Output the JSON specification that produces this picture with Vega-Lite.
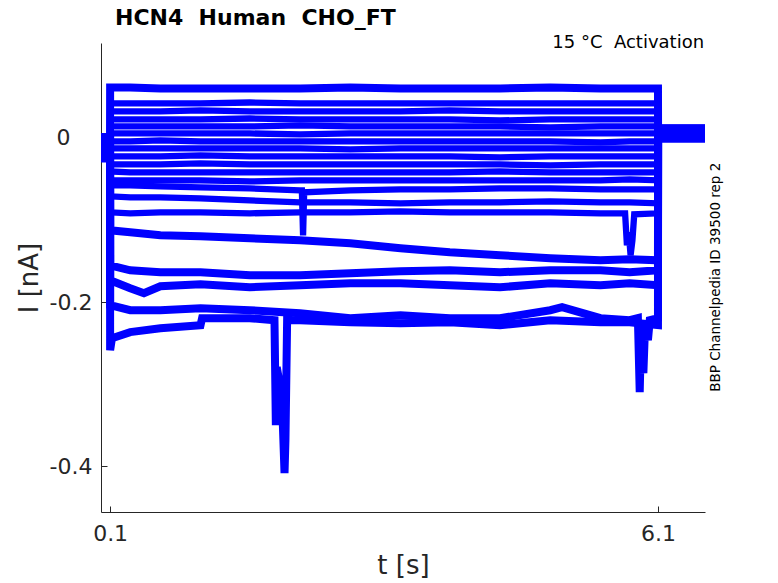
{
  "$schema": "https://vega.github.io/schema/vega-lite/v6.json",
  "autosize": "none",
  "width": 604,
  "height": 469,
  "padding": {"left": 101, "top": 43, "right": 73, "bottom": 71},
  "background": "white",
  "title": {
    "text": "HCN4\u00a0\u00a0Human\u00a0\u00a0CHO_FT",
    "anchor": "start",
    "frame": "group",
    "dx": 14,
    "offset": 4,
    "font": "DejaVu Sans",
    "fontSize": 22,
    "fontWeight": "bold",
    "color": "black"
  },
  "data": {
    "values": [
      {"sweep":1,"t":0,"i":0.0006},{"sweep":1,"t":0.015,"i":0.0006},{"sweep":1,"t":0.023,"i":-0.0298},{"sweep":1,"t":0.03,"i":-0.0018},{"sweep":1,"t":0.099,"i":0.0006},
      {"sweep":1,"t":0.1,"i":0.0615},{"sweep":1,"t":0.32,"i":0.0615},{"sweep":1,"t":0.65,"i":0.0603},{"sweep":1,"t":1.09,"i":0.0603},{"sweep":1,"t":1.63,"i":0.0603},{"sweep":1,"t":2.18,"i":0.0603},{"sweep":1,"t":2.73,"i":0.0615},{"sweep":1,"t":3.28,"i":0.0603},{"sweep":1,"t":3.82,"i":0.0603},{"sweep":1,"t":4.37,"i":0.0603},{"sweep":1,"t":4.92,"i":0.0615},{"sweep":1,"t":5.47,"i":0.0603},{"sweep":1,"t":5.79,"i":0.0603},{"sweep":1,"t":6.1,"i":0.0603},{"sweep":1,"t":6.101,"i":0.0116},{"sweep":1,"t":6.615,"i":0.0116},

      {"sweep":2,"t":0,"i":0.0006},{"sweep":2,"t":0.099,"i":0.0006},
      {"sweep":2,"t":0.1,"i":0.0420},{"sweep":2,"t":0.32,"i":0.0420},{"sweep":2,"t":0.65,"i":0.0420},{"sweep":2,"t":1.09,"i":0.0420},{"sweep":2,"t":1.63,"i":0.0432},{"sweep":2,"t":2.18,"i":0.0420},{"sweep":2,"t":2.73,"i":0.0420},{"sweep":2,"t":3.28,"i":0.0420},{"sweep":2,"t":3.82,"i":0.0420},{"sweep":2,"t":4.37,"i":0.0420},{"sweep":2,"t":4.92,"i":0.0420},{"sweep":2,"t":5.47,"i":0.0420},{"sweep":2,"t":5.79,"i":0.0420},{"sweep":2,"t":6.1,"i":0.0420},{"sweep":2,"t":6.101,"i":0.0006},{"sweep":2,"t":6.615,"i":0.0006},

      {"sweep":3,"t":0,"i":0.0006},{"sweep":3,"t":0.099,"i":0.0006},
      {"sweep":3,"t":0.1,"i":0.0323},{"sweep":3,"t":0.32,"i":0.0323},{"sweep":3,"t":0.65,"i":0.0323},{"sweep":3,"t":1.09,"i":0.0335},{"sweep":3,"t":1.63,"i":0.0323},{"sweep":3,"t":2.18,"i":0.0323},{"sweep":3,"t":2.73,"i":0.0323},{"sweep":3,"t":3.28,"i":0.0323},{"sweep":3,"t":3.82,"i":0.0335},{"sweep":3,"t":4.37,"i":0.0323},{"sweep":3,"t":4.92,"i":0.0323},{"sweep":3,"t":5.47,"i":0.0323},{"sweep":3,"t":5.79,"i":0.0323},{"sweep":3,"t":6.1,"i":0.0323},{"sweep":3,"t":6.101,"i":0.0091},{"sweep":3,"t":6.615,"i":0.0091},

      {"sweep":4,"t":0,"i":0.0006},{"sweep":4,"t":0.099,"i":0.0006},
      {"sweep":4,"t":0.1,"i":0.0225},{"sweep":4,"t":0.32,"i":0.0225},{"sweep":4,"t":0.65,"i":0.0225},{"sweep":4,"t":1.09,"i":0.0225},{"sweep":4,"t":1.63,"i":0.0237},{"sweep":4,"t":2.18,"i":0.0225},{"sweep":4,"t":2.73,"i":0.0225},{"sweep":4,"t":3.28,"i":0.0225},{"sweep":4,"t":3.82,"i":0.0225},{"sweep":4,"t":4.37,"i":0.0213},{"sweep":4,"t":4.92,"i":0.0225},{"sweep":4,"t":5.47,"i":0.0225},{"sweep":4,"t":5.79,"i":0.0225},{"sweep":4,"t":6.1,"i":0.0225},{"sweep":4,"t":6.101,"i":0.0043},{"sweep":4,"t":6.615,"i":0.0043},

      {"sweep":5,"t":0,"i":0.0006},{"sweep":5,"t":0.099,"i":0.0006},
      {"sweep":5,"t":0.1,"i":0.0140},{"sweep":5,"t":0.32,"i":0.0140},{"sweep":5,"t":0.65,"i":0.0140},{"sweep":5,"t":1.09,"i":0.0140},{"sweep":5,"t":1.63,"i":0.0140},{"sweep":5,"t":2.18,"i":0.0152},{"sweep":5,"t":2.73,"i":0.0140},{"sweep":5,"t":3.28,"i":0.0140},{"sweep":5,"t":3.82,"i":0.0140},{"sweep":5,"t":4.37,"i":0.0140},{"sweep":5,"t":4.92,"i":0.0128},{"sweep":5,"t":5.47,"i":0.0140},{"sweep":5,"t":5.79,"i":0.0140},{"sweep":5,"t":6.1,"i":0.0140},{"sweep":5,"t":6.101,"i":0.0128},{"sweep":5,"t":6.615,"i":0.0128},

      {"sweep":6,"t":0,"i":0.0006},{"sweep":6,"t":0.099,"i":0.0006},
      {"sweep":6,"t":0.1,"i":0.0055},{"sweep":6,"t":0.32,"i":0.0055},{"sweep":6,"t":0.65,"i":0.0055},{"sweep":6,"t":1.09,"i":0.0055},{"sweep":6,"t":1.63,"i":0.0055},{"sweep":6,"t":2.18,"i":0.0043},{"sweep":6,"t":2.73,"i":0.0055},{"sweep":6,"t":3.28,"i":0.0055},{"sweep":6,"t":3.82,"i":0.0055},{"sweep":6,"t":4.37,"i":0.0055},{"sweep":6,"t":4.92,"i":0.0055},{"sweep":6,"t":5.47,"i":0.0055},{"sweep":6,"t":5.79,"i":0.0055},{"sweep":6,"t":6.1,"i":0.0055},{"sweep":6,"t":6.101,"i":-0.0018},{"sweep":6,"t":6.615,"i":-0.0018},

      {"sweep":7,"t":0,"i":0.0006},{"sweep":7,"t":0.099,"i":0.0006},
      {"sweep":7,"t":0.1,"i":-0.0043},{"sweep":7,"t":0.32,"i":-0.0043},{"sweep":7,"t":0.65,"i":-0.0030},{"sweep":7,"t":1.09,"i":-0.0043},{"sweep":7,"t":1.63,"i":-0.0043},{"sweep":7,"t":2.18,"i":-0.0043},{"sweep":7,"t":2.73,"i":-0.0043},{"sweep":7,"t":3.28,"i":-0.0043},{"sweep":7,"t":3.82,"i":-0.0043},{"sweep":7,"t":4.37,"i":-0.0043},{"sweep":7,"t":4.92,"i":-0.0043},{"sweep":7,"t":5.47,"i":-0.0055},{"sweep":7,"t":5.79,"i":-0.0043},{"sweep":7,"t":6.1,"i":-0.0043},{"sweep":7,"t":6.101,"i":0.0067},{"sweep":7,"t":6.615,"i":0.0067},

      {"sweep":8,"t":0,"i":0.0006},{"sweep":8,"t":0.099,"i":0.0006},
      {"sweep":8,"t":0.1,"i":-0.0128},{"sweep":8,"t":0.32,"i":-0.0128},{"sweep":8,"t":0.65,"i":-0.0128},{"sweep":8,"t":1.09,"i":-0.0128},{"sweep":8,"t":1.63,"i":-0.0128},{"sweep":8,"t":2.18,"i":-0.0128},{"sweep":8,"t":2.73,"i":-0.0140},{"sweep":8,"t":3.28,"i":-0.0128},{"sweep":8,"t":3.82,"i":-0.0128},{"sweep":8,"t":4.37,"i":-0.0128},{"sweep":8,"t":4.92,"i":-0.0128},{"sweep":8,"t":5.47,"i":-0.0128},{"sweep":8,"t":5.79,"i":-0.0128},{"sweep":8,"t":6.1,"i":-0.0128},{"sweep":8,"t":6.101,"i":0.0018},{"sweep":8,"t":6.615,"i":0.0018},

      {"sweep":9,"t":0,"i":0.0006},{"sweep":9,"t":0.099,"i":0.0006},
      {"sweep":9,"t":0.1,"i":-0.0225},{"sweep":9,"t":0.32,"i":-0.0225},{"sweep":9,"t":0.65,"i":-0.0225},{"sweep":9,"t":1.09,"i":-0.0213},{"sweep":9,"t":1.63,"i":-0.0225},{"sweep":9,"t":2.18,"i":-0.0225},{"sweep":9,"t":2.73,"i":-0.0225},{"sweep":9,"t":3.28,"i":-0.0225},{"sweep":9,"t":3.82,"i":-0.0225},{"sweep":9,"t":4.37,"i":-0.0237},{"sweep":9,"t":4.92,"i":-0.0225},{"sweep":9,"t":5.47,"i":-0.0225},{"sweep":9,"t":5.79,"i":-0.0225},{"sweep":9,"t":6.1,"i":-0.0225},{"sweep":9,"t":6.101,"i":0.0103},{"sweep":9,"t":6.615,"i":0.0103},

      {"sweep":10,"t":0,"i":0.0006},{"sweep":10,"t":0.099,"i":0.0006},
      {"sweep":10,"t":0.1,"i":-0.0323},{"sweep":10,"t":0.32,"i":-0.0323},{"sweep":10,"t":0.65,"i":-0.0323},{"sweep":10,"t":1.09,"i":-0.0310},{"sweep":10,"t":1.63,"i":-0.0323},{"sweep":10,"t":2.18,"i":-0.0323},{"sweep":10,"t":2.73,"i":-0.0323},{"sweep":10,"t":3.28,"i":-0.0323},{"sweep":10,"t":3.82,"i":-0.0323},{"sweep":10,"t":4.37,"i":-0.0323},{"sweep":10,"t":4.92,"i":-0.0335},{"sweep":10,"t":5.47,"i":-0.0323},{"sweep":10,"t":5.79,"i":-0.0323},{"sweep":10,"t":6.1,"i":-0.0323},{"sweep":10,"t":6.101,"i":-0.0006},{"sweep":10,"t":6.615,"i":-0.0006},

      {"sweep":11,"t":0,"i":0.0006},{"sweep":11,"t":0.099,"i":0.0006},
      {"sweep":11,"t":0.1,"i":-0.0408},{"sweep":11,"t":0.32,"i":-0.0420},{"sweep":11,"t":0.65,"i":-0.0420},{"sweep":11,"t":1.09,"i":-0.0420},{"sweep":11,"t":1.63,"i":-0.0420},{"sweep":11,"t":2.18,"i":-0.0420},{"sweep":11,"t":2.73,"i":-0.0420},{"sweep":11,"t":3.28,"i":-0.0420},{"sweep":11,"t":3.82,"i":-0.0420},{"sweep":11,"t":4.37,"i":-0.0408},{"sweep":11,"t":4.92,"i":-0.0420},{"sweep":11,"t":5.47,"i":-0.0420},{"sweep":11,"t":5.79,"i":-0.0420},{"sweep":11,"t":6.1,"i":-0.0420},{"sweep":11,"t":6.101,"i":0.0079},{"sweep":11,"t":6.615,"i":0.0079},

      {"sweep":12,"t":0,"i":0.0006},{"sweep":12,"t":0.099,"i":0.0006},
      {"sweep":12,"t":0.1,"i":-0.0517},{"sweep":12,"t":0.32,"i":-0.0517},{"sweep":12,"t":0.65,"i":-0.0517},{"sweep":12,"t":1.09,"i":-0.0517},{"sweep":12,"t":1.63,"i":-0.0530},{"sweep":12,"t":2.18,"i":-0.0517},{"sweep":12,"t":2.73,"i":-0.0517},{"sweep":12,"t":3.28,"i":-0.0517},{"sweep":12,"t":3.82,"i":-0.0517},{"sweep":12,"t":4.37,"i":-0.0517},{"sweep":12,"t":4.92,"i":-0.0517},{"sweep":12,"t":5.47,"i":-0.0517},{"sweep":12,"t":5.79,"i":-0.0505},{"sweep":12,"t":6.1,"i":-0.0517},{"sweep":12,"t":6.101,"i":0.0030},{"sweep":12,"t":6.615,"i":0.0030},

      {"sweep":13,"t":0,"i":0.0006},{"sweep":13,"t":0.099,"i":0.0006},
      {"sweep":13,"t":0.1,"i":-0.0578},{"sweep":13,"t":0.32,"i":-0.0578},{"sweep":13,"t":0.65,"i":-0.0590},{"sweep":13,"t":1.09,"i":-0.0603},{"sweep":13,"t":1.63,"i":-0.0615},{"sweep":13,"t":2.18,"i":-0.0639},{"sweep":13,"t":2.2,"i":-0.0639},{"sweep":13,"t":2.213,"i":-0.1187},{"sweep":13,"t":2.225,"i":-0.0663},{"sweep":13,"t":2.73,"i":-0.0639},{"sweep":13,"t":3.28,"i":-0.0627},{"sweep":13,"t":3.82,"i":-0.0627},{"sweep":13,"t":4.37,"i":-0.0615},{"sweep":13,"t":4.92,"i":-0.0615},{"sweep":13,"t":5.47,"i":-0.0627},{"sweep":13,"t":5.79,"i":-0.0627},{"sweep":13,"t":6.1,"i":-0.0627},{"sweep":13,"t":6.101,"i":0.0055},{"sweep":13,"t":6.615,"i":0.0055},

      {"sweep":14,"t":0,"i":0.0006},{"sweep":14,"t":0.099,"i":0.0006},
      {"sweep":14,"t":0.1,"i":-0.0712},{"sweep":14,"t":0.32,"i":-0.0724},{"sweep":14,"t":0.65,"i":-0.0724},{"sweep":14,"t":1.09,"i":-0.0736},{"sweep":14,"t":1.63,"i":-0.0761},{"sweep":14,"t":2.18,"i":-0.0785},{"sweep":14,"t":2.73,"i":-0.0785},{"sweep":14,"t":3.28,"i":-0.0797},{"sweep":14,"t":3.82,"i":-0.0785},{"sweep":14,"t":4.37,"i":-0.0785},{"sweep":14,"t":4.92,"i":-0.0773},{"sweep":14,"t":5.47,"i":-0.0785},{"sweep":14,"t":5.79,"i":-0.0785},{"sweep":14,"t":6.1,"i":-0.0797},{"sweep":14,"t":6.101,"i":0.0116},{"sweep":14,"t":6.615,"i":0.0116},

      {"sweep":15,"t":0,"i":0.0006},{"sweep":15,"t":0.099,"i":0.0006},
      {"sweep":15,"t":0.1,"i":-0.0907},{"sweep":15,"t":0.32,"i":-0.0919},{"sweep":15,"t":0.65,"i":-0.0907},{"sweep":15,"t":1.09,"i":-0.0907},{"sweep":15,"t":1.63,"i":-0.0919},{"sweep":15,"t":2.18,"i":-0.0907},{"sweep":15,"t":2.73,"i":-0.0907},{"sweep":15,"t":3.28,"i":-0.0895},{"sweep":15,"t":3.82,"i":-0.0907},{"sweep":15,"t":4.37,"i":-0.0907},{"sweep":15,"t":4.92,"i":-0.0907},{"sweep":15,"t":5.47,"i":-0.0919},{"sweep":15,"t":5.74,"i":-0.0919},{"sweep":15,"t":5.76,"i":-0.1309},{"sweep":15,"t":5.78,"i":-0.1150},{"sweep":15,"t":5.8,"i":-0.1430},{"sweep":15,"t":5.82,"i":-0.1248},{"sweep":15,"t":5.84,"i":-0.0931},{"sweep":15,"t":6.1,"i":-0.0919},{"sweep":15,"t":6.101,"i":0.0006},{"sweep":15,"t":6.615,"i":0.0006},

      {"sweep":16,"t":0,"i":0.0006},{"sweep":16,"t":0.099,"i":0.0006},
      {"sweep":16,"t":0.1,"i":-0.1126},{"sweep":16,"t":0.32,"i":-0.1150},{"sweep":16,"t":0.65,"i":-0.1187},{"sweep":16,"t":1.09,"i":-0.1199},{"sweep":16,"t":1.63,"i":-0.1223},{"sweep":16,"t":2.18,"i":-0.1248},{"sweep":16,"t":2.73,"i":-0.1284},{"sweep":16,"t":3.28,"i":-0.1345},{"sweep":16,"t":3.82,"i":-0.1394},{"sweep":16,"t":4.37,"i":-0.1430},{"sweep":16,"t":4.92,"i":-0.1467},{"sweep":16,"t":5.47,"i":-0.1491},{"sweep":16,"t":5.79,"i":-0.1479},{"sweep":16,"t":6.1,"i":-0.1491},{"sweep":16,"t":6.101,"i":0.0079},{"sweep":16,"t":6.615,"i":0.0079},

      {"sweep":17,"t":0,"i":0.0006},{"sweep":17,"t":0.099,"i":0.0006},
      {"sweep":17,"t":0.1,"i":-0.1552},{"sweep":17,"t":0.32,"i":-0.1613},{"sweep":17,"t":0.65,"i":-0.1637},{"sweep":17,"t":1.09,"i":-0.1637},{"sweep":17,"t":1.63,"i":-0.1674},{"sweep":17,"t":2.18,"i":-0.1674},{"sweep":17,"t":2.73,"i":-0.1649},{"sweep":17,"t":3.28,"i":-0.1625},{"sweep":17,"t":3.82,"i":-0.1613},{"sweep":17,"t":4.37,"i":-0.1637},{"sweep":17,"t":4.92,"i":-0.1613},{"sweep":17,"t":5.47,"i":-0.1613},{"sweep":17,"t":5.79,"i":-0.1637},{"sweep":17,"t":6.1,"i":-0.1613},{"sweep":17,"t":6.101,"i":0.0030},{"sweep":17,"t":6.615,"i":0.0030},

      {"sweep":18,"t":0,"i":0.0006},{"sweep":18,"t":0.099,"i":0.0006},
      {"sweep":18,"t":0.1,"i":-0.1735},{"sweep":18,"t":0.32,"i":-0.1832},{"sweep":18,"t":0.47,"i":-0.1893},{"sweep":18,"t":0.65,"i":-0.1808},{"sweep":18,"t":1.09,"i":-0.1783},{"sweep":18,"t":1.63,"i":-0.1820},{"sweep":18,"t":2.18,"i":-0.1796},{"sweep":18,"t":2.73,"i":-0.1771},{"sweep":18,"t":3.28,"i":-0.1771},{"sweep":18,"t":3.82,"i":-0.1796},{"sweep":18,"t":4.37,"i":-0.1820},{"sweep":18,"t":4.92,"i":-0.1771},{"sweep":18,"t":5.47,"i":-0.1796},{"sweep":18,"t":5.79,"i":-0.1771},{"sweep":18,"t":6.1,"i":-0.1796},{"sweep":18,"t":6.101,"i":0.0103},{"sweep":18,"t":6.615,"i":0.0103},

      {"sweep":19,"t":0,"i":0.0006},{"sweep":19,"t":0.099,"i":0.0006},
      {"sweep":19,"t":0.1,"i":-0.2039},{"sweep":19,"t":0.32,"i":-0.2100},{"sweep":19,"t":0.65,"i":-0.2100},{"sweep":19,"t":1.09,"i":-0.2075},{"sweep":19,"t":1.63,"i":-0.2100},{"sweep":19,"t":2.18,"i":-0.2136},{"sweep":19,"t":2.73,"i":-0.2197},{"sweep":19,"t":3.28,"i":-0.2161},{"sweep":19,"t":3.82,"i":-0.2197},{"sweep":19,"t":4.37,"i":-0.2197},{"sweep":19,"t":4.92,"i":-0.2100},{"sweep":19,"t":5.05,"i":-0.2063},{"sweep":19,"t":5.47,"i":-0.2197},{"sweep":19,"t":5.79,"i":-0.2222},{"sweep":19,"t":5.88,"i":-0.2197},{"sweep":19,"t":5.9,"i":-0.3098},{"sweep":19,"t":5.915,"i":-0.2343},{"sweep":19,"t":5.94,"i":-0.2867},{"sweep":19,"t":5.96,"i":-0.2246},{"sweep":19,"t":5.99,"i":-0.2465},{"sweep":19,"t":6.01,"i":-0.2222},{"sweep":19,"t":6.1,"i":-0.2197},{"sweep":19,"t":6.101,"i":-0.0006},{"sweep":19,"t":6.615,"i":-0.0006},

      {"sweep":20,"t":0,"i":0.0006},{"sweep":20,"t":0.099,"i":0.0006},
      {"sweep":20,"t":0.1,"i":-0.2587},{"sweep":20,"t":0.12,"i":-0.2441},{"sweep":20,"t":0.32,"i":-0.2367},{"sweep":20,"t":0.65,"i":-0.2319},{"sweep":20,"t":1.09,"i":-0.2282},{"sweep":20,"t":1.107,"i":-0.2197},{"sweep":20,"t":1.63,"i":-0.2197},{"sweep":20,"t":1.9,"i":-0.2222},{"sweep":20,"t":1.915,"i":-0.3500},{"sweep":20,"t":1.925,"i":-0.2794},{"sweep":20,"t":1.96,"i":-0.3013},{"sweep":20,"t":1.99,"i":-0.3439},{"sweep":20,"t":2.01,"i":-0.4084},{"sweep":20,"t":2.02,"i":-0.3682},{"sweep":20,"t":2.04,"i":-0.2100},{"sweep":20,"t":2.06,"i":-0.2222},{"sweep":20,"t":2.18,"i":-0.2222},{"sweep":20,"t":2.73,"i":-0.2246},{"sweep":20,"t":3.28,"i":-0.2258},{"sweep":20,"t":3.82,"i":-0.2246},{"sweep":20,"t":4.37,"i":-0.2282},{"sweep":20,"t":4.92,"i":-0.2222},{"sweep":20,"t":5.47,"i":-0.2246},{"sweep":20,"t":5.79,"i":-0.2246},{"sweep":20,"t":6.1,"i":-0.2282},{"sweep":20,"t":6.101,"i":0.0055},{"sweep":20,"t":6.615,"i":0.0055}
    ]
  },
  "layer": [
    {
      "transform": [{"filter": "datum.sweep > 1 && datum.sweep < 16"}],
      "mark": {"type": "line", "color": "#0000ff", "strokeWidth": 6.3, "clip": true},
      "encoding": {
        "x": {
          "field": "t",
          "type": "quantitative",
          "scale": {"domain": [0, 6.615], "nice": false, "zero": false},
          "axis": {
            "values": [0.1, 6.1],
            "labelExpr": "toString(datum.value)",
            "title": "t [s]",
            "labelPadding": 17,
            "titlePadding": 8
          }
        },
        "y": {
          "field": "i",
          "type": "quantitative",
          "scale": {"domain": [-0.4559, 0.1157], "nice": false, "zero": false},
          "axis": {
            "values": [-0.4, -0.2, 0],
            "labelExpr": "toString(datum.value)",
            "title": "I [nA]",
            "labelPadding": {"condition": {"test": "datum.value == 0", "value": 37}, "value": 15},
            "titlePadding": 7
          }
        },
        "detail": {"field": "sweep"}
      }
    },
    {
      "transform": [{"filter": "datum.sweep == 1 || datum.sweep >= 16"}],
      "mark": {"type": "line", "color": "#0000ff", "strokeWidth": 8, "clip": true},
      "encoding": {
        "x": {"field": "t", "type": "quantitative"},
        "y": {"field": "i", "type": "quantitative"},
        "detail": {"field": "sweep"}
      }
    },
    {
      "data": {"values": [{"note": "15 °C\u00a0\u00a0Activation"}]},
      "mark": {"type": "text", "align": "right", "baseline": "alphabetic", "font": "DejaVu Sans", "fontSize": 18, "color": "black"},
      "encoding": {
        "x": {"datum": 6.605},
        "y": {"datum": 0.109},
        "text": {"field": "note"}
      }
    },
    {
      "data": {"values": [{"note": "BBP Channelpedia ID 39500 rep 2"}]},
      "mark": {"type": "text", "align": "center", "baseline": "middle", "angle": 270, "font": "DejaVu Sans", "fontSize": 13.5, "color": "black"},
      "encoding": {
        "x": {"datum": 6.74},
        "y": {"datum": -0.1698},
        "text": {"field": "note"}
      }
    }
  ],
  "config": {
    "view": {"stroke": null},
    "axis": {
      "grid": false,
      "domainColor": "#262626",
      "tickColor": "#262626",
      "labelColor": "#262626",
      "titleColor": "#262626",
      "labelFont": "DejaVu Sans",
      "titleFont": "DejaVu Sans",
      "labelFontSize": 22,
      "titleFontSize": 26,
      "titleFontWeight": "normal",
      "tickSize": -6,
      "domainWidth": 1,
      "tickWidth": 1
    }
  }
}
